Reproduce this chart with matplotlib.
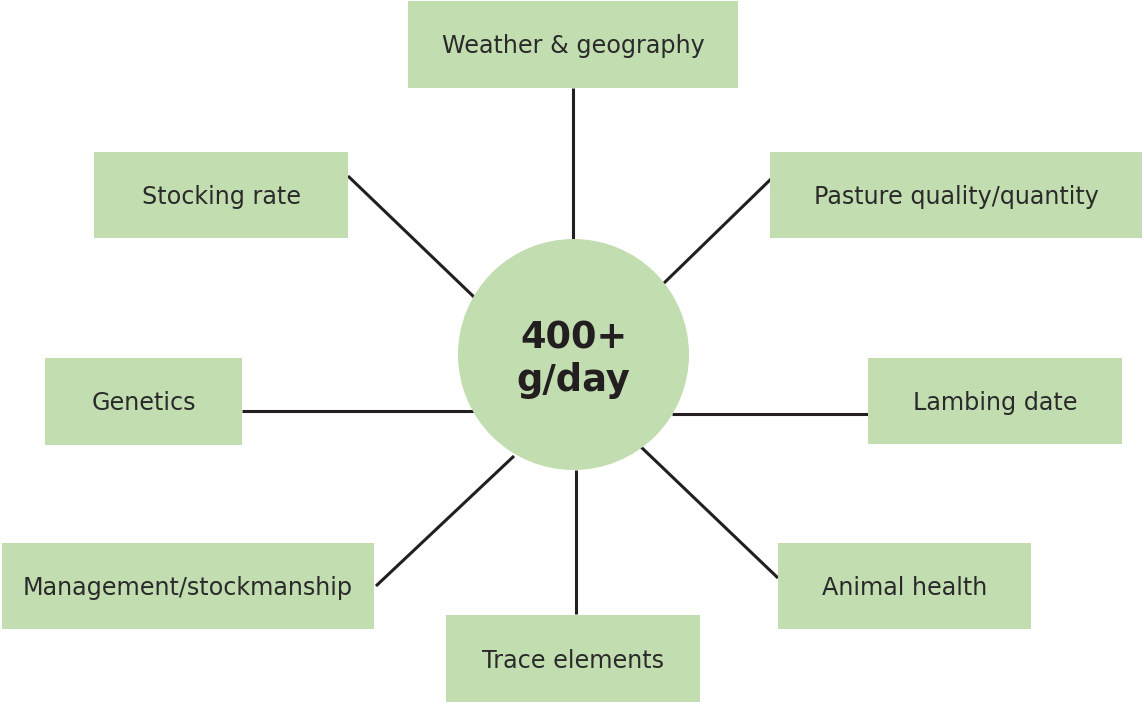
import matplotlib
matplotlib.use("Agg")
import matplotlib.pyplot as plt
from matplotlib.patches import Rectangle, Circle

# Data
center_label = "400+\ng/day"
factors = ["Weather & geography", "Stocking rate", "Pasture quality/quantity",
           "Genetics", "Lambing date", "Management/stockmanship",
           "Trace elements", "Animal health"]

# Layout (pixel coordinates, y downward): box x0, y0, x1, y1
boxes = [(408, 1, 738, 88), (94, 152, 348, 238), (770, 152, 1142, 238),
         (45, 358, 242, 445), (868, 358, 1122, 444), (2, 543, 374, 629),
         (446, 615, 700, 702), (778, 543, 1031, 629)]
# connector lines: (x0, y0, x1, y1)
links = [(573, 88, 573, 239), (348, 176, 474, 297), (772, 178, 662, 285),
         (242, 411, 474, 411), (672, 414, 868, 414), (376, 586, 514, 456),
         (576, 470, 576, 614), (640, 446, 778, 578)]
circ = (573.5, 354.5, 115.5)

green = "#C2DDB0"
ink = "#231F20"

fig = plt.figure(figsize=(11.44, 7.04), dpi=100)
ax = fig.add_axes([0, 0, 1, 1])
ax.set_xlim(0, 1144)
ax.set_ylim(704, 0)
ax.axis("off")

for (x0, y0, x1, y1) in links:
    ax.plot([x0, x1], [y0, y1], color=ink, lw=2.2, solid_capstyle="butt", zorder=1)

ax.add_patch(Circle((circ[0], circ[1]), circ[2], facecolor=green, edgecolor="none", zorder=2))
ax.text(circ[0], circ[1] + 5, center_label, ha="center", va="center", fontsize=26.5,
        fontweight="bold", color=ink, linespacing=1.2, family="DejaVu Sans", zorder=3)

for label, (x0, y0, x1, y1) in zip(factors, boxes):
    ax.add_patch(Rectangle((x0, y0), x1 - x0, y1 - y0, facecolor=green, edgecolor="none", zorder=2))
    ax.text((x0 + x1) / 2, (y0 + y1) / 2 + 2, label, ha="center", va="center",
            fontsize=17.2, color="#2A2A2A", family="DejaVu Sans", zorder=3)

fig.savefig("out.png", dpi=100, facecolor="white")
